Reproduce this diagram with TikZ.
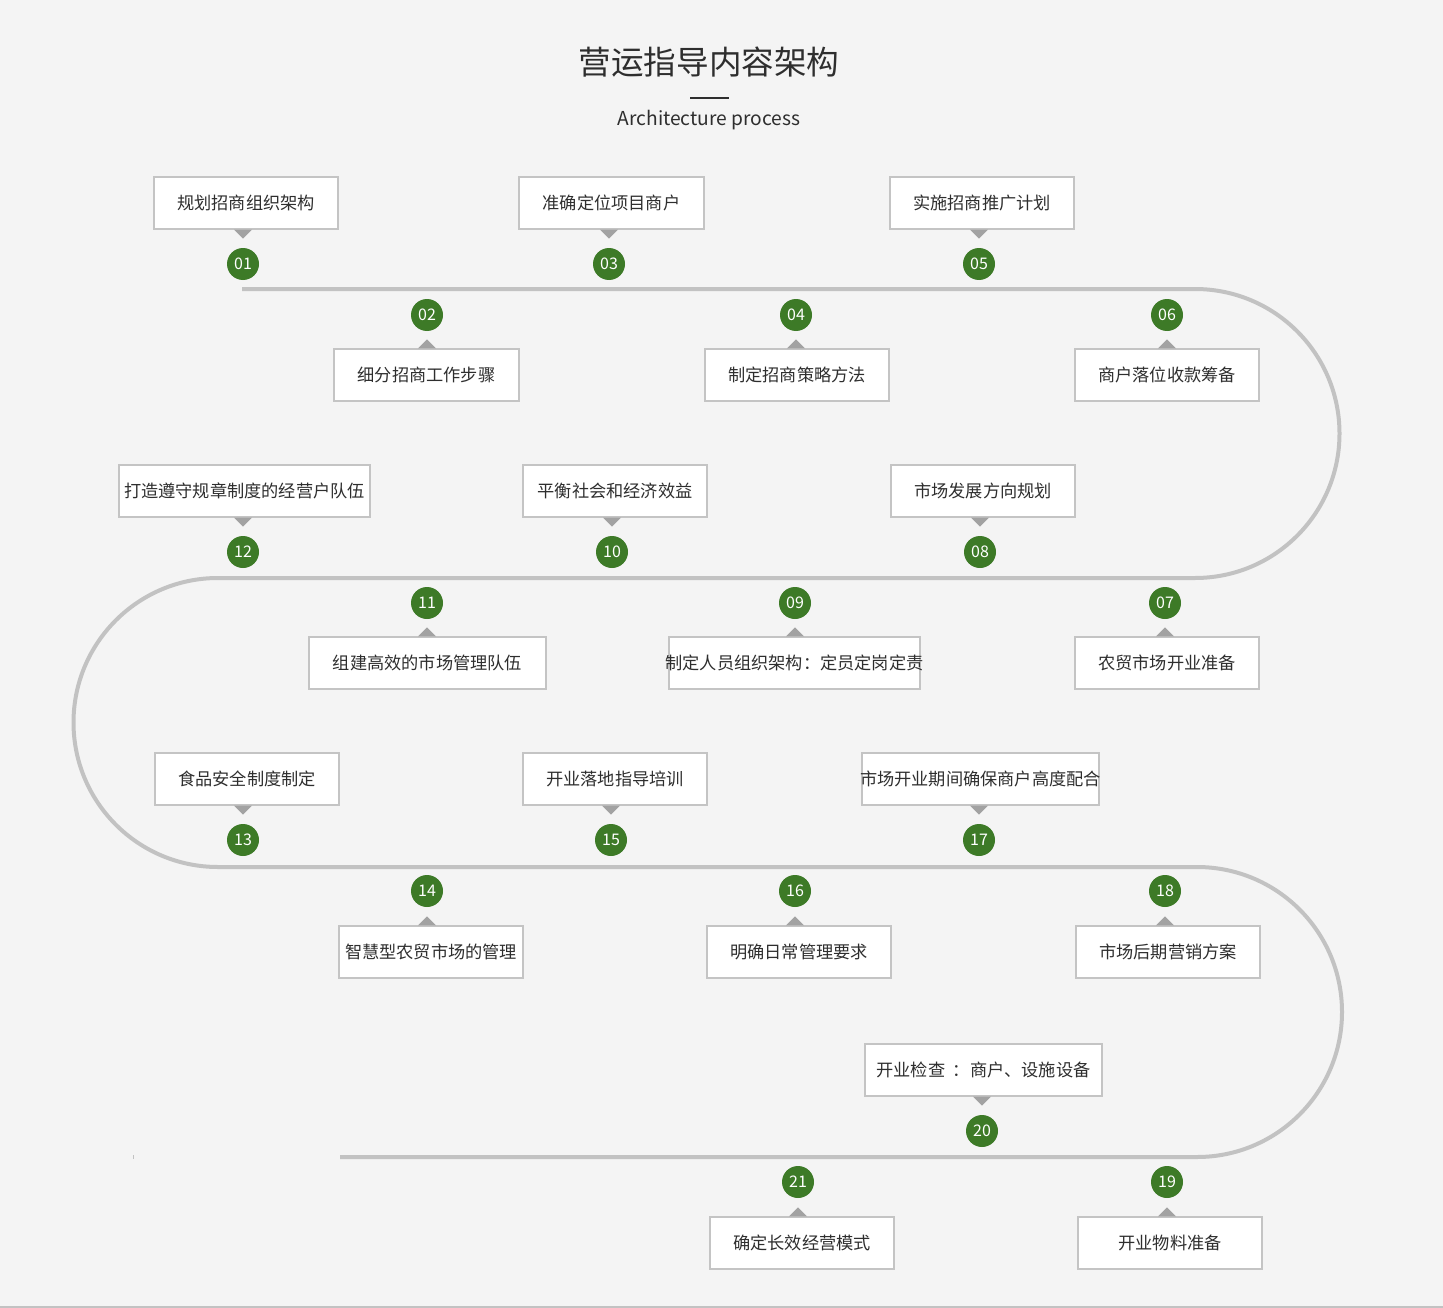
\documentclass[tikz,border=0pt]{standalone}
\usepackage{fontspec}
\setmainfont{Noto Sans CJK SC}
\definecolor{bg}{HTML}{F4F4F4}
\definecolor{pathc}{HTML}{C2C2C2}
\definecolor{boxline}{HTML}{C4C4C4}
\definecolor{tric}{HTML}{A2A2A2}
\definecolor{grn}{HTML}{3D7A27}
\definecolor{txt}{HTML}{2E2E2E}
\tikzset{
  box/.style={draw=boxline, line width=1.2pt, fill=white, minimum height=52pt, inner sep=0pt, text=txt, font=\fontsize{17.2}{19}\selectfont},
  num/.style={circle, fill=grn, minimum size=32pt, inner sep=0pt, text=white, font=\fontsize{16}{18}\selectfont},
  tri/.style={fill=tric},
  track/.style={draw=pathc, line width=4pt},
}
\newcommand\upit[8]{%
  \node[box,minimum width=#4pt] (b#1) at (#2,#3) {\makebox[0pt][c]{#5}};
  \node[num] (n#1) at (#6,#7) {#8};
  \fill[tri] (n#1 |- b#1.south) ++(-9,0) -- ++(18,0) -- ++(-9,9) -- cycle;
}
\newcommand\loit[8]{%
  \node[box,minimum width=#4pt] (b#1) at (#2,#3) {\makebox[0pt][c]{#5}};
  \node[num] (n#1) at (#6,#7) {#8};
  \fill[tri] (n#1 |- b#1.north) ++(-9,0) -- ++(18,0) -- ++(-9,-9) -- cycle;
}
\begin{document}
\begin{tikzpicture}[x=1pt,y=-1pt]
\fill[bg] (0,0) rectangle (1443,1308);
\useasboundingbox (0,0) rectangle (1443,1308);
\fill[pathc] (0,1306) rectangle (1443,1308);
% title
\node[text=txt, font=\fontsize{32.6}{35}\selectfont] (title) at (709,62) {营运指导内容架构};
\coordinate (ulL) at (690,98);
\coordinate (ulR) at (729,98);
\draw[txt, line width=1.5pt] (ulL) -- (ulR);
\node[text=txt, font=\fontsize{19.2}{21}\selectfont] (sub) at (709,120) {Architecture process};
% track
\coordinate (p0) at (242,289);
\coordinate (p1) at (1195,289);
\coordinate (p2) at (218,578);
\coordinate (p3) at (1197,867);
\coordinate (p4) at (340,1157);
\draw[track] (p0) -- (p1) arc[start angle=-90, end angle=90, radius=144.5]
  -- (p2) arc[start angle=270, end angle=90, radius=144.5]
  -- (p3) arc[start angle=-90, end angle=90, radius=145] -- (p4);
\fill[pathc] (132.5,1155) rectangle (133.5,1159);
% row 1
\upit{01}{246}{203}{184}{规划招商组织架构}{243}{264}{01}
\upit{03}{611.5}{203}{185}{准确定位项目商户}{609}{264}{03}
\upit{05}{982}{203}{184}{实施招商推广计划}{979}{264}{05}
\loit{02}{426.5}{375}{185}{细分招商工作步骤}{427}{315}{02}
\loit{04}{797}{375}{184}{制定招商策略方法}{796}{315}{04}
\loit{06}{1167}{375}{184}{商户落位收款筹备}{1167}{315}{06}
% row 2
\upit{12}{244.5}{491}{251}{打造遵守规章制度的经营户队伍}{243}{552}{12}
\upit{10}{615}{491}{184}{平衡社会和经济效益}{612}{552}{10}
\upit{08}{983}{491}{184}{市场发展方向规划}{980}{552}{08}
\loit{11}{427.5}{663}{237}{组建高效的市场管理队伍}{427}{603}{11}
\loit{09}{794.5}{663}{251}{制定人员组织架构：定员定岗定责}{795}{603}{09}
\loit{07}{1167}{663}{184}{农贸市场开业准备}{1165}{603}{07}
% row 3
\upit{13}{247}{779}{184}{食品安全制度制定}{243}{840}{13}
\upit{15}{615}{779}{184}{开业落地指导培训}{611}{840}{15}
\upit{17}{980.5}{779}{237}{市场开业期间确保商户高度配合}{979}{840}{17}
\loit{14}{431}{952}{184}{智慧型农贸市场的管理}{427}{891}{14}
\loit{16}{799}{952}{184}{明确日常管理要求}{795}{891}{16}
\loit{18}{1168}{952}{184}{市场后期营销方案}{1165}{891}{18}
% row 4
\upit{20}{983.5}{1070}{237}{开业检查\ \ ：商户、设施设备}{982}{1131}{20}
\loit{21}{802}{1243}{184}{确定长效经营模式}{798}{1182}{21}
\loit{19}{1170}{1243}{184}{开业物料准备}{1167}{1182}{19}
\end{tikzpicture}
\end{document}
